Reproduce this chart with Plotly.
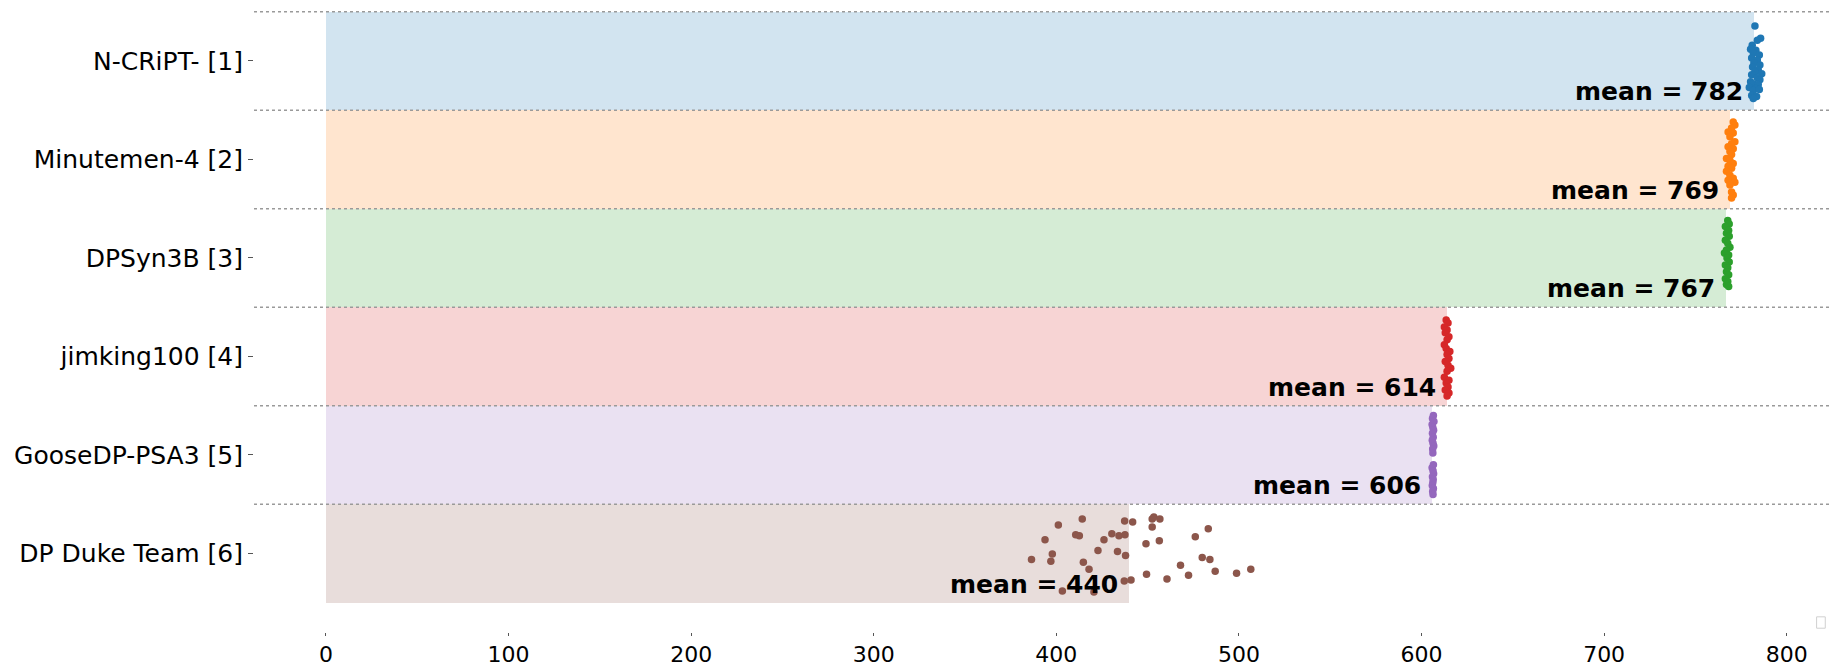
import plotly.graph_objects as go

teams = ["N-CRiPT- [1]", "Minutemen-4 [2]", "DPSyn3B [3]", "jimking100 [4]",
         "GooseDP-PSA3 [5]", "DP Duke Team [6]"]
means = [782, 769, 767, 614, 606, 440]
colors = ["#1f77b4", "#ff7f0e", "#2ca02c", "#d62728", "#9467bd", "#8c564b"]
bar_colors = ["rgba(31,119,180,0.2)", "rgba(255,127,14,0.2)", "rgba(44,160,44,0.2)",
              "rgba(214,39,40,0.2)", "rgba(148,103,189,0.2)", "rgba(140,86,75,0.2)"]

ncript_scores = [782.6, 785.7, 783.9, 781.1, 780.2, 783.1, 781.7, 785.0, 780.8, 783.9,
                 782.0, 785.3, 781.3, 784.4, 782.6, 786.3, 780.8, 783.9, 785.3, 780.2,
                 781.7, 784.4, 779.5, 783.1, 781.7, 785.0, 780.8, 783.5, 781.7]
ncript_jitter = [-0.355, -0.23, -0.21, -0.16, -0.12, -0.11, -0.08, -0.06, -0.03, -0.01,
                 0.02, 0.04, 0.06, 0.09, 0.11, 0.13, 0.14, 0.17, 0.19, 0.21,
                 0.23, 0.24, 0.27, 0.28, 0.30, 0.29, 0.35, 0.36, 0.38]

minutemen_scores = [770.7, 771.6, 769.8, 767.9, 770.7, 768.9, 771.6, 769.8, 767.9, 770.7,
                    768.9, 769.8, 767.0, 768.9, 770.7, 767.9, 769.8, 767.0, 768.9, 770.7,
                    767.9, 771.6, 768.9, 769.8, 770.7, 769.8]
minutemen_jitter = [-0.38, -0.35, -0.32, -0.28, -0.27, -0.23, -0.18, -0.16, -0.13, -0.11,
                    -0.08, -0.05, -0.01, 0.01, 0.04, 0.07, 0.09, 0.12, 0.16, 0.19,
                    0.21, 0.23, 0.26, 0.33, 0.36, 0.39]

dpsyn_scores = [767.7, 768.5, 766.4, 768.2, 767.0, 768.5, 766.4, 767.7, 768.9, 767.0, 765.9,
                768.2, 767.3, 768.5, 766.4, 767.7, 767.0, 768.2, 766.4, 767.7, 767.0, 768.2]
dpsyn_jitter = [-0.38, -0.345, -0.32, -0.28, -0.25, -0.22, -0.18, -0.15, -0.11, -0.08, -0.05,
                -0.03, 0.00, 0.04, 0.07, 0.10, 0.14, 0.17, 0.21, 0.24, 0.27, 0.29]

jimking_scores = [613.5, 614.5, 612.5, 614.0, 613.0, 615.0, 614.0, 612.5, 613.5, 615.5,
                  614.0, 615.0, 613.0, 614.5, 616.0, 614.0, 612.5, 615.0, 613.5, 614.5,
                  613.0, 615.0, 614.0]
jimking_jitter = [-0.37, -0.34, -0.30, -0.27, -0.24, -0.20, -0.17, -0.12, -0.08, -0.05,
                  -0.02, 0.02, 0.05, 0.09, 0.12, 0.15, 0.21, 0.24, 0.27, 0.31,
                  0.34, 0.37, 0.40]

goose_scores = [606.5, 606.0, 606.8, 605.8, 606.2, 606.6, 606.0, 606.4, 605.9, 606.3,
                606.7, 606.1, 606.2, 606.5, 605.8, 606.3, 606.6, 606.0, 606.4, 606.2,
                605.9, 606.5, 606.1, 606.3]
goose_jitter = [-0.40, -0.37, -0.34, -0.31, -0.28, -0.25, -0.22, -0.18, -0.15, -0.12,
                -0.09, -0.06, -0.02, 0.10, 0.13, 0.16, 0.19, 0.22, 0.25, 0.28,
                0.31, 0.34, 0.37, 0.40]

duke_scores = [386.4, 393.8, 397.8, 397.0, 401.1, 403.3, 410.6, 412.6, 414.2, 414.8,
               417.9, 420.6, 422.8, 426.1, 430.4, 433.5, 434.3, 437.4, 437.6, 437.9,
               437.2, 440.9, 441.8, 449.1, 449.4, 452.5, 452.5, 453.4, 456.7, 456.4,
               460.6, 468.0, 472.4, 476.1, 479.9, 483.2, 484.1, 487.0, 498.7, 506.5]
duke_jitter = [0.06, -0.14, 0.005, 0.08, -0.29, 0.38, -0.19, -0.18, -0.35, 0.09,
               0.16, 0.39, -0.03, -0.14, -0.20, -0.02, -0.18, -0.33, -0.19, 0.02,
               0.28, 0.27, -0.32, -0.10, 0.21, -0.27, -0.35, -0.37, -0.35, -0.13,
               0.26, 0.12, 0.22, -0.17, 0.04, -0.25, 0.06, 0.18, 0.20, 0.16]

all_scores = [ncript_scores, minutemen_scores, dpsyn_scores, jimking_scores,
              goose_scores, duke_scores]
all_jitter = [ncript_jitter, minutemen_jitter, dpsyn_jitter, jimking_jitter,
              goose_jitter, duke_jitter]

x_ticks = [0, 100, 200, 300, 400, 500, 600, 700, 800]

FONT = "DejaVu Sans"
idx = list(range(len(teams)))

fig = go.Figure()
fig.add_trace(go.Bar(
    x=means, y=idx, orientation="h", width=1.0,
    marker=dict(color=bar_colors, line=dict(width=0)),
    showlegend=False, hoverinfo="skip",
))
for i, (sc, jt) in enumerate(zip(all_scores, all_jitter)):
    fig.add_trace(go.Scatter(
        x=sc, y=[i + j for j in jt], mode="markers",
        marker=dict(color=colors[i], size=7.5, line=dict(width=0)),
        showlegend=False,
    ))

for i, m in enumerate(means):
    fig.add_annotation(
        x=m, y=i + 0.31, xref="x", yref="y", text=f"<b>mean = {m}</b>",
        showarrow=False, xanchor="right", yanchor="middle", xshift=-9,
        font=dict(family=FONT, size=25, color="black"),
    )

for i in idx:
    fig.add_shape(type="line", xref="paper", yref="y", x0=0, x1=1,
                  y0=i - 0.5, y1=i - 0.5,
                  line=dict(color="#9a9a9a", width=1.5, dash="dot"), layer="above")

# empty legend box
fig.add_shape(type="rect", xref="paper", yref="paper", x0=0.9915, x1=0.997,
              y0=0.006, y1=0.024, line=dict(color="#d0d0d0", width=1),
              fillcolor="white", layer="above")

fig.update_layout(
    width=1830, height=666,
    margin=dict(l=254, r=0, t=0, b=34, autoexpand=False),
    plot_bgcolor="white", paper_bgcolor="white",
    font=dict(family=FONT, color="black"),
    bargap=0,
)
fig.update_xaxes(
    range=[-39.4, 823.7], tickvals=x_ticks, ticktext=[str(t) for t in x_ticks],
    showgrid=False, zeroline=False, showline=False,
    ticks="outside", ticklen=3, tickcolor="#555", tickwidth=1,
    tickfont=dict(family=FONT, size=22, color="black"),
)
fig.update_yaxes(
    range=[5.797, -0.619], tickvals=idx, ticktext=teams,
    showgrid=False, zeroline=False, showline=False,
    ticks="outside", ticklen=5, tickcolor="#555", tickwidth=1,
    tickfont=dict(family=FONT, size=25, color="black"),
)

fig.write_html("out.html")
